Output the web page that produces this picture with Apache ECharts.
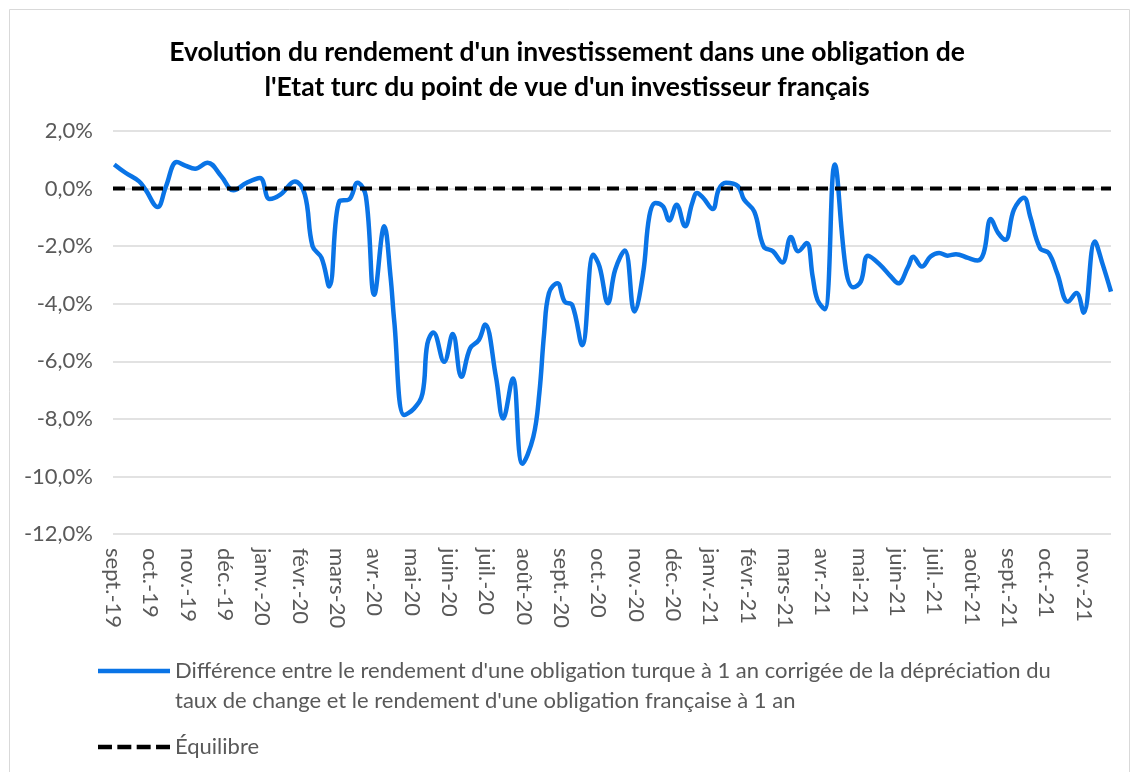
<!DOCTYPE html>
<html>
<head>
<meta charset="utf-8">
<script src="https://cdn.jsdelivr.net/npm/echarts@6/dist/echarts.min.js"></script>
<style>
html,body{margin:0;padding:0;background:#fff;}
#chart{width:1134px;height:772px;}
</style>
</head>
<body>
<div id="chart"></div>
<script>
const monthLabels = ['sept.-19','oct.-19','nov.-19','déc.-19','janv.-20','févr.-20','mars-20','avr.-20','mai-20','juin-20','juil.-20','août-20','sept.-20','oct.-20','nov.-20','déc.-20','janv.-21','févr.-21','mars-21','avr.-21','mai-21','juin-21','juil.-21','août-21','sept.-21','oct.-21','nov.-21'];

const dates = ['2019-09-02','2019-09-11','2019-09-22','2019-09-27','2019-10-07','2019-10-14','2019-10-23','2019-10-30','2019-11-07','2019-11-17',
'2019-11-28','2019-12-08','2019-12-19','2019-12-30','2020-01-07','2020-01-16','2020-01-28','2020-02-05','2020-02-11','2020-02-18',
'2020-02-24','2020-03-03','2020-03-11','2020-03-18','2020-03-25','2020-04-01','2020-04-09','2020-04-14','2020-04-17','2020-04-25',
'2020-05-03','2020-05-10','2020-05-14','2020-05-19','2020-05-28','2020-06-04','2020-06-11','2020-06-18','2020-06-25','2020-06-30',
'2020-07-09','2020-07-15','2020-07-23','2020-07-31','2020-08-09','2020-08-14','2020-08-18','2020-08-22','2020-08-29','2020-09-04',
'2020-09-10','2020-09-18','2020-09-27','2020-10-02','2020-10-09','2020-10-15','2020-10-23','2020-10-31','2020-11-07','2020-11-12',
'2020-11-17','2020-11-23','2020-11-28','2020-12-04','2020-12-11','2020-12-17','2020-12-21','2020-12-26','2021-01-03','2021-01-08',
'2021-01-14','2021-01-24','2021-01-29','2021-02-06','2021-02-13','2021-02-20','2021-02-27','2021-03-06','2021-03-12','2021-03-19',
'2021-03-24','2021-03-28','2021-04-03','2021-04-11','2021-04-20','2021-04-26','2021-05-02','2021-05-08','2021-05-18','2021-05-27',
'2021-06-02','2021-06-10','2021-06-14','2021-06-21','2021-06-28','2021-07-05','2021-07-12','2021-07-19','2021-07-29','2021-08-06',
'2021-08-11','2021-08-17','2021-08-23','2021-08-29','2021-09-05','2021-09-13','2021-09-18','2021-09-26','2021-10-03','2021-10-10',
'2021-10-19','2021-10-26','2021-11-01','2021-11-10','2021-11-16','2021-11-23'];

const ecart = [0.84,0.55,0.25,-0.03,-0.64,0.08,0.92,0.80,0.69,0.90,
0.43,-0.06,0.20,0.37,-0.36,-0.21,0.25,-0.20,-2.00,-2.41,
-3.40,-0.44,-0.38,0.20,-0.27,-3.69,-1.31,-3.05,-4.60,-7.87,
-7.64,-7.12,-5.40,-5.00,-6.02,-5.05,-6.54,-5.55,-5.26,-4.72,
-6.54,-7.99,-6.60,-9.56,-8.63,-7.12,-5.03,-3.63,-3.29,-3.93,
-4.04,-5.44,-2.30,-2.71,-3.98,-2.82,-2.15,-4.27,-2.94,-0.96,
-0.50,-0.62,-1.11,-0.56,-1.31,-0.50,-0.15,-0.32,-0.71,-0.03,
0.20,0.08,-0.38,-0.80,-2.01,-2.18,-2.57,-1.68,-2.18,-1.89,
-3.06,-3.87,-4.19,0.84,-2.82,-3.43,-3.23,-2.33,-2.65,-3.06,
-3.29,-2.71,-2.37,-2.71,-2.36,-2.24,-2.33,-2.28,-2.41,-2.50,
-2.24,-1.06,-1.54,-1.78,-0.73,-0.32,-0.96,-2.07,-2.24,-2.94,
-3.93,-3.63,-4.31,-1.84,-2.59,-3.58];

const equilibre = [0, 0];
const yTicks = [-12, 2, 2];

const seriesName1 = "Différence entre le rendement d'une obligation turque à 1 an corrigée de la dépréciation du taux de change et le rendement d'une obligation française à 1 an";
const legendLine1 = "Différence entre le rendement d'une obligation turque à 1 an corrigée de la dépréciation du";
const legendLine2 = "taux de change et le rendement d'une obligation française à 1 an";
const seriesName2 = 'Équilibre';

function monthPos(s) {
  const p = s.split('-').map(Number);
  const dim = new Date(p[0], p[1], 0).getDate();
  return (p[0] - 2019) * 12 + (p[1] - 9) + (p[2] - 1) / dim;
}

const xMin = 0;
const xMax = monthPos(dates[dates.length - 1]);
const lineData = dates.map((d, i) => [monthPos(d), ecart[i]]);
const eqData = [[xMin, equilibre[0]], [xMax, equilibre[1]]];

const FONT = 'Lato';
const BLUE = '#0A74E6';
const chart = echarts.init(document.getElementById('chart'), null, {renderer: 'canvas'});
chart.setOption({
  animation: false,
  backgroundColor: '#ffffff',
  textStyle: {fontFamily: FONT},
  title: {
    text: "Evolution du rendement d'un investissement dans une obligation de\nl'Etat turc du point de vue d'un investisseur français",
    left: 'center',
    top: 30,
    textStyle: {fontFamily: FONT, fontSize: 26.5, fontWeight: 'bold', color: '#000000', lineHeight: 35}
  },
  graphic: [{
    type: 'rect', left: 7, top: 7, silent: true,
    shape: {width: 1120, height: 775},
    style: {fill: 'none', stroke: '#d9d9d9', lineWidth: 1}
  }],
  legend: [{
    data: [seriesName1],
    left: 93, top: 621,
    orient: 'vertical',
    icon: 'rect',
    itemWidth: 72, itemHeight: 4.5, itemGap: 0,
    formatter: () => '\n' + legendLine1 + '\n' + legendLine2,
    textStyle: {fontFamily: FONT, fontSize: 22, color: '#595959', lineHeight: 30},
    selectedMode: false
  }, {
    data: [seriesName2],
    left: 93, top: 731,
    icon: 'path://M0,0h13v4h-13z M18,0h13v4h-13z M36,0h13v4h-13z M54,0h13v4h-13z',
    itemWidth: 72, itemHeight: 4.5,
    textStyle: {fontFamily: FONT, fontSize: 22, color: '#595959'},
    selectedMode: false
  }],
  grid: {left: 113, right: 23, top: 131, bottom: 238, containLabel: false},
  xAxis: {
    type: 'value',
    min: xMin, max: xMax, interval: 1,
    axisLine: {show: false},
    axisTick: {show: false},
    splitLine: {show: false},
    axisLabel: {
      rotate: -90,
      margin: 14,
      fontFamily: FONT, fontSize: 22, color: '#595959',
      showMinLabel: true, showMaxLabel: false,
      hideOverlap: false,
      formatter: v => (Math.abs(v - Math.round(v)) < 1e-6 && monthLabels[Math.round(v)]) ? monthLabels[Math.round(v)] : ''
    }
  },
  yAxis: {
    type: 'value',
    min: yTicks[0], max: yTicks[1], interval: yTicks[2],
    axisLine: {show: false},
    axisTick: {show: false},
    splitLine: {lineStyle: {color: '#d9d9d9', width: 1.5}},
    axisLabel: {
      margin: 20,
      fontFamily: FONT, fontSize: 22, color: '#595959',
      formatter: v => v.toFixed(1).replace('.', ',') + '%'
    }
  },
  series: [{
    name: seriesName1,
    type: 'line',
    data: lineData,
    smooth: 0.4,
    symbol: 'none',
    lineStyle: {color: BLUE, width: 4.5},
    itemStyle: {color: BLUE},
    z: 2
  }, {
    name: seriesName2,
    type: 'line',
    data: eqData,
    symbol: 'none',
    lineStyle: {color: '#000000', width: 4, type: [12, 7]},
    itemStyle: {color: '#000000'},
    z: 3
  }]
});
</script>
</body>
</html>
